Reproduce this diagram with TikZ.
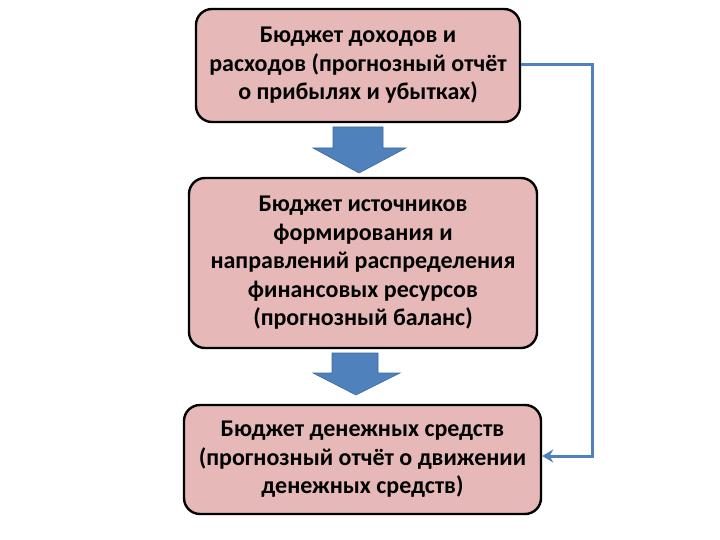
\documentclass[tikz,border=0pt]{standalone}
\usepackage{fontspec}
\setmainfont{Carlito}
\usetikzlibrary{arrows.meta,shapes.arrows}
\definecolor{boxpink}{RGB}{230,185,184}
\definecolor{arrblue}{RGB}{79,129,189}
\tikzset{
  budget/.style={draw=black, line width=2.4pt, fill=boxpink, rounded corners=16pt,
    align=center, font=\bfseries\fontsize{24}{28.5}\selectfont, inner sep=0pt},
  blockarrow/.style={fill=arrblue, draw=arrblue!80!black, line width=0.6pt},
  link/.style={draw=arrblue, line width=3pt, -{Stealth[length=11pt,width=13pt]}}
}
\begin{document}
\begin{tikzpicture}[x=1pt,y=-1pt]
\useasboundingbox (0,0) rectangle (720,540);
\node[budget, minimum width=324pt, minimum height=113pt] (b1) at (358,65.5)
  {Бюджет доходов и\\расходов (прогнозный отчёт\\о прибылях и убытках)};
\node[budget, minimum width=348pt, minimum height=170pt] (b2) at (363,263)
  {Бюджет источников\\формирования и\\направлений распределения\\финансовых ресурсов\\(прогнозный баланс)};
\node[budget, minimum width=357pt, minimum height=109pt] (b3) at (362.5,459.5)
  {Бюджет денежных средств\\(прогнозный отчёт о движении\\денежных средств)};
% block arrows
\draw[blockarrow] (333,127) -- (383,127) -- (383,148) -- (406,148) -- (359,173)
  -- (313,148) -- (333,148) -- cycle;
\draw[blockarrow] (332,353) -- (378,353) -- (378,373) -- (400,373) -- (356,395)
  -- (313,373) -- (332,373) -- cycle;
\coordinate (c1) at (592,65);
\coordinate (c2) at (592,456);
\draw[link] (b1.east |- c1) -- (c1) -- (c2) -- (b3.east |- c2);
\end{tikzpicture}
\end{document}
